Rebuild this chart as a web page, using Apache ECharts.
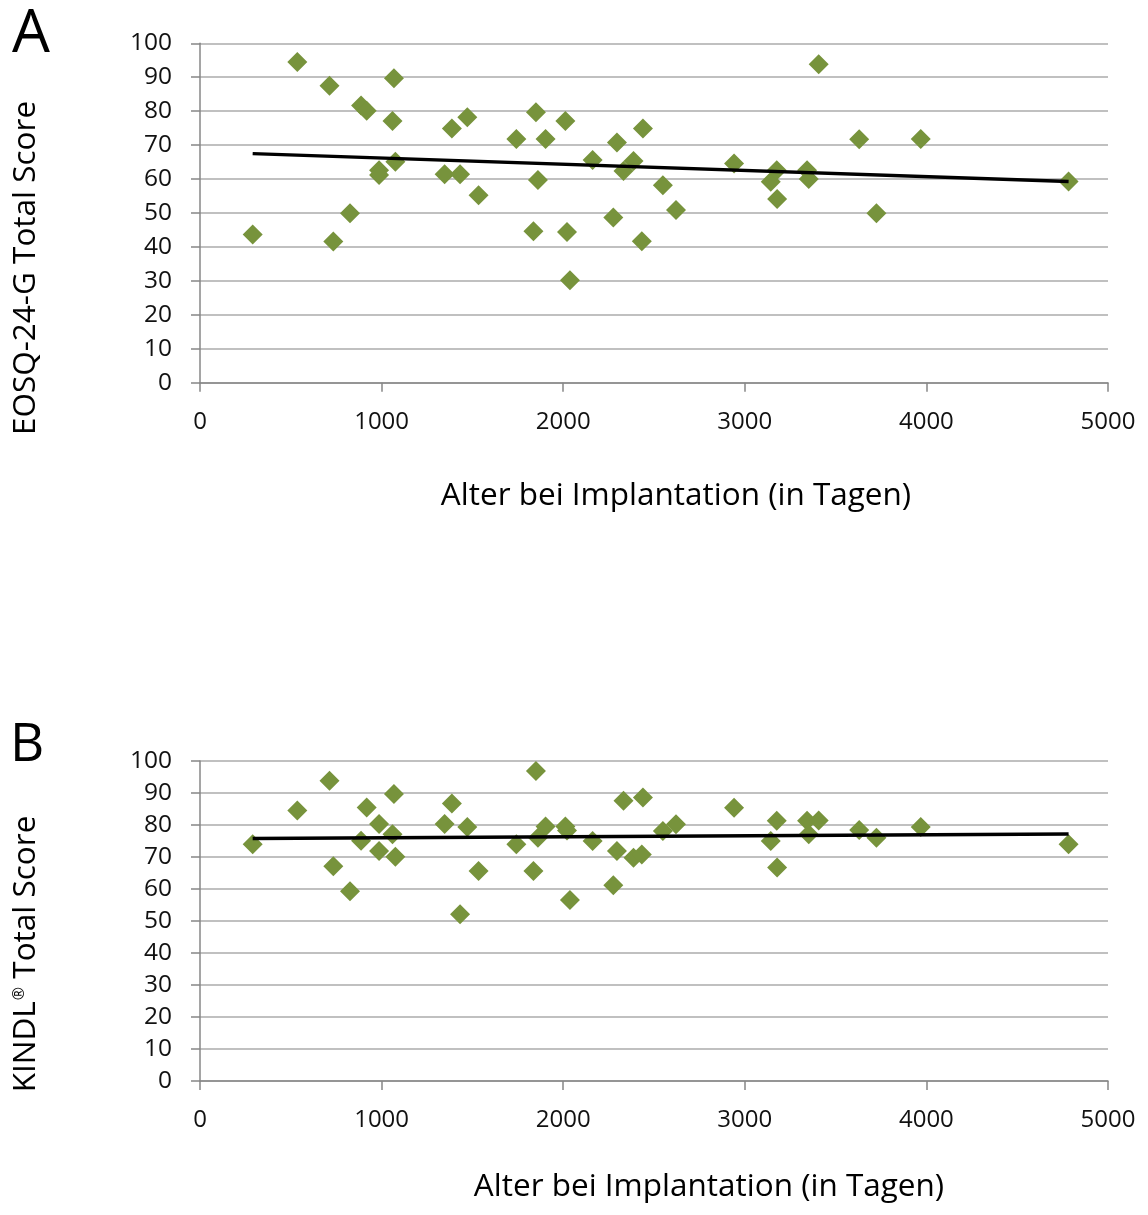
<!DOCTYPE html>
<html>
<head>
<meta charset="utf-8">
<script src="https://cdn.jsdelivr.net/npm/echarts@6/dist/echarts.min.js"></script>
<style>
  html, body { margin: 0; padding: 0; background: #ffffff; }
  #chart { width: 1148px; height: 1215px; }
</style>
</head>
<body>
<div id="chart"></div>
<script>
// Age at implantation (days) for each child
const ageDays = [
  290, 536, 713, 734, 826, 887, 918, 986, 986, 1060, 1068, 1076, 1347, 1387, 1432,
  1472, 1534, 1742, 1836, 1850, 1861, 1903, 2012, 2021, 2037, 2162, 2276, 2296, 2332,
  2387, 2433, 2439, 2549, 2621, 2941, 3143, 3176, 3178, 3343, 3352, 3407, 3630, 3725,
  3969, 4783
];

// Panel A: EOSQ-24-G total score per child
const eosqScores = [
  43.7, 94.5, 87.5, 41.6, 49.9, 81.7, 80.1, 62.6, 61.2, 77.1, 89.7, 65.1, 61.4, 74.9, 61.4,
  78.2, 55.2, 71.8, 44.6, 79.7, 59.7, 71.8, 77.1, 44.4, 30.2, 65.6, 48.7, 70.8, 62.4,
  65.3, 41.7, 74.9, 58.2, 50.9, 64.6, 59.2, 62.6, 54.1, 62.6, 60.0, 93.8, 71.7, 49.9,
  71.8, 59.3
];

// Panel B: KINDL total score per child
const kindlScores = [
  74.0, 84.5, 93.8, 67.1, 59.3, 75.1, 85.5, 80.3, 71.9, 77.1, 89.7, 70.1, 80.3, 86.7, 52.1,
  79.4, 65.6, 74.0, 65.6, 96.9, 76.0, 79.5, 79.5, 78.3, 56.6, 75.0, 61.2, 71.9, 87.6,
  69.8, 70.8, 88.6, 78.1, 80.2, 85.4, 75.0, 81.3, 66.7, 81.3, 77.1, 81.4, 78.4, 76.0,
  79.4, 74.0
];

// Linear trend lines: score at the youngest and at the oldest age
const trendEosq = [67.5, 59.3];
const trendKindl = [75.8, 77.2];

// Axis tick values
const xTicks = [0, 1000, 2000, 3000, 4000, 5000];
const yTicks = [0, 10, 20, 30, 40, 50, 60, 70, 80, 90, 100];

const xAxisTitle = 'Alter bei Implantation (in Tagen)';
const yTitleA = 'EOSQ-24-G Total Score';
const yTitleB = '{t|KINDL}{sup|®}{t| Total Score}';

const FONT = '"Open Sans", "Noto Sans", sans-serif';
const AXIS_GREY = '#878787';
const GRID_GREY = '#ababab';
const MARKER = '#77933c';
const TITLE_SIZE = 31.5;

const minAge = Math.min(...ageDays);
const maxAge = Math.max(...ageDays);

function pairs(xs, ys) {
  return xs.map((x, i) => [x, ys[i]]);
}

function xAxisFor(gridIndex) {
  return {
    type: 'value',
    gridIndex,
    min: xTicks[0],
    max: xTicks[xTicks.length - 1],
    interval: xTicks[1] - xTicks[0],
    splitLine: { show: false },
    axisLine: { show: true, lineStyle: { color: AXIS_GREY, width: 1.5 } },
    axisTick: { show: true, length: 9, lineStyle: { color: AXIS_GREY, width: 1.5 } },
    axisLabel: {
      fontFamily: FONT, fontSize: 24, color: '#111', margin: 27,
      formatter: v => String(v)
    }
  };
}

function yAxisFor(gridIndex) {
  return {
    type: 'value',
    gridIndex,
    min: yTicks[0],
    max: yTicks[yTicks.length - 1],
    interval: yTicks[1] - yTicks[0],
    splitLine: { show: true, lineStyle: { color: GRID_GREY, width: 1.6 } },
    axisLine: { show: true, lineStyle: { color: AXIS_GREY, width: 1.5 } },
    axisTick: { show: true, length: 9, lineStyle: { color: AXIS_GREY, width: 1.5 } },
    axisLabel: {
      fontFamily: FONT, fontSize: 24.5, color: '#111', margin: 28,
      formatter: v => String(v)
    }
  };
}

function scatterSeries(idx, ys) {
  return {
    type: 'scatter',
    xAxisIndex: idx,
    yAxisIndex: idx,
    symbol: 'diamond',
    symbolSize: 20,
    itemStyle: { color: MARKER, opacity: 1 },
    data: pairs(ageDays, ys),
    z: 2
  };
}

function trendSeries(idx, ends) {
  return {
    type: 'line',
    xAxisIndex: idx,
    yAxisIndex: idx,
    symbol: 'none',
    lineStyle: { color: '#000', width: 3.4 },
    data: [[minAge, ends[0]], [maxAge, ends[1]]],
    z: 3,
    silent: true
  };
}

const chart = echarts.init(document.getElementById('chart'), null, { renderer: 'canvas' });

chart.setOption({
  animation: false,
  backgroundColor: '#ffffff',
  grid: [
    { left: 200, top: 43.3, width: 908, height: 339.4 },
    { left: 200, top: 761, width: 908, height: 320 }
  ],
  xAxis: [xAxisFor(0), xAxisFor(1)],
  yAxis: [yAxisFor(0), yAxisFor(1)],
  series: [
    scatterSeries(0, eosqScores),
    trendSeries(0, trendEosq),
    scatterSeries(1, kindlScores),
    trendSeries(1, trendKindl)
  ],
  graphic: [
    { type: 'text', x: 31, y: 35,
      style: { text: 'A', font: '60px ' + FONT, fill: '#000', align: 'center', verticalAlign: 'middle' } },
    { type: 'text', x: 27, y: 746,
      style: { text: 'B', font: '53px ' + FONT, fill: '#000', align: 'center', verticalAlign: 'middle' } },
    { type: 'text', x: 676, y: 496,
      style: { text: xAxisTitle, font: TITLE_SIZE + 'px ' + FONT, fill: '#000', align: 'center', verticalAlign: 'middle' } },
    { type: 'text', x: 709, y: 1187,
      style: { text: xAxisTitle, font: TITLE_SIZE + 'px ' + FONT, fill: '#000', align: 'center', verticalAlign: 'middle' } },
    { type: 'text', x: 26, y: 268, rotation: Math.PI / 2,
      style: { text: yTitleA, font: TITLE_SIZE + 'px ' + FONT, fill: '#000', align: 'center', verticalAlign: 'middle' } },
    { type: 'text', x: 26, y: 954, rotation: Math.PI / 2,
      style: {
        text: yTitleB, fill: '#000', align: 'center', verticalAlign: 'middle',
        font: TITLE_SIZE + 'px ' + FONT,
        rich: {
          t: { fontFamily: FONT, fontSize: TITLE_SIZE, fill: '#000', lineHeight: 38 },
          sup: { fontFamily: FONT, fontSize: 16, fill: '#000', verticalAlign: 'top', lineHeight: 38, padding: [4, 0, 0, 1] }
        }
      } }
  ]
});
</script>
</body>
</html>
